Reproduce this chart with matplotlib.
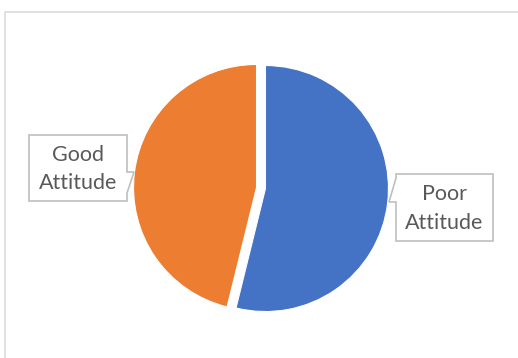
import matplotlib.pyplot as plt
from matplotlib.patches import Polygon, Rectangle

labels = ["Poor Attitude", "Good Attitude"]
values = [14, 12]
colors = ["#4472C4", "#ED7D31"]

W, H = 518, 358

fig = plt.figure(figsize=(W / 100, H / 100), dpi=100)
ax = fig.add_axes([0, 0, 1, 1])

# explode is in data units here (pixels), not scaled by radius
ax.pie(
    values,
    colors=colors,
    startangle=90,
    counterclock=False,
    explode=[4.5, 4.5],
    center=(261, H - 188),
    radius=123,
    wedgeprops=dict(edgecolor="white", linewidth=0.8),
)
ax.set_xlim(0, W)
ax.set_ylim(0, H)
ax.set_aspect("equal")
ax.axis("off")

# chart area border
ax.add_patch(Rectangle((5, -20), W, H - 12 + 20, fill=False,
                       edgecolor="#D9D9D9", linewidth=1.1))


def callout(pts, lines, cx, ys):
    poly = Polygon([(x, H - y) for x, y in pts], closed=True,
                   facecolor="white", edgecolor="#BFBFBF", linewidth=1.2)
    ax.add_patch(poly)
    for txt, y in zip(lines, ys):
        ax.text(cx, H - y, txt, ha="center", va="center", fontsize=15.5,
                family="Lato", color="#595959")


# Good Attitude box, notch on the right
callout([(29, 135), (127, 135), (127, 172), (134, 172), (127, 193),
         (127, 201), (29, 201)],
        ["Good", "Attitude"], 78, [155, 183])

# Poor Attitude box, notch on the left
callout([(396, 174), (493, 174), (493, 241), (396, 241), (396, 202),
         (389, 202), (396, 178)],
        ["Poor", "Attitude"], 444, [194, 223])

fig.savefig("out.png", dpi=100)
